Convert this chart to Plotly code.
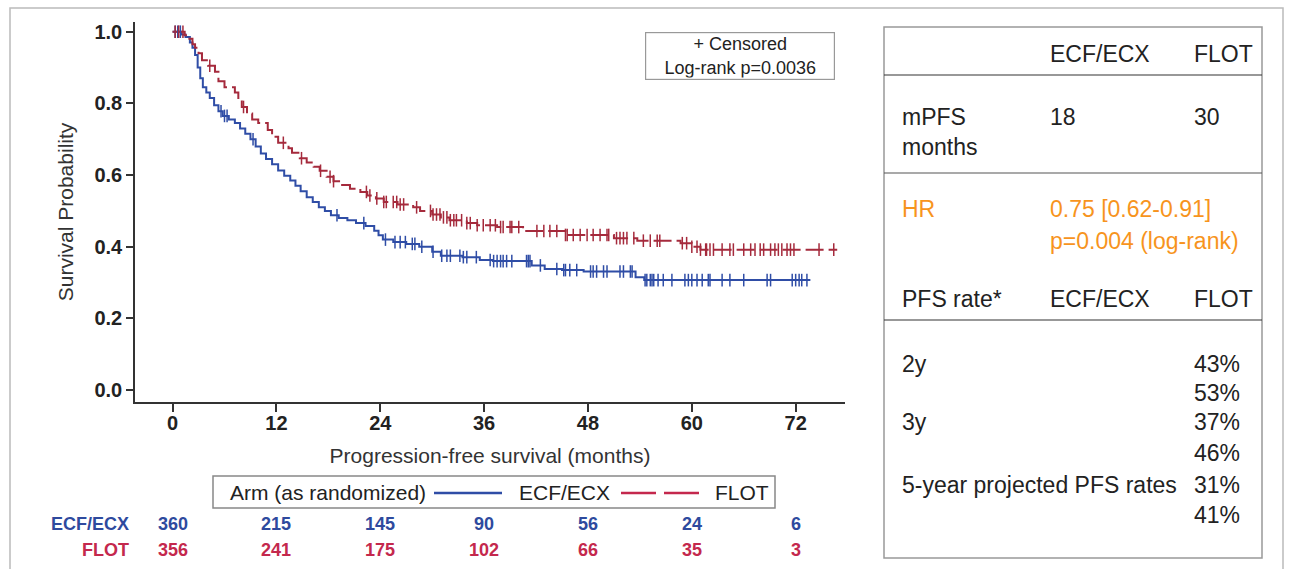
import numpy as np
import plotly.graph_objects as go

# ---------------- data ----------------
ecf_t = [0, 1.0, 1.5, 2.0, 2.3, 2.6, 2.9, 3.2, 3.5, 3.9, 4.3, 4.8, 5.3, 5.8, 6.5, 7.2, 7.8,
         8.4, 9.0, 9.6, 10.2, 10.8, 11.5, 12.2, 12.9, 13.6, 14.2, 14.8, 15.5, 16.2, 16.9,
         17.6, 18.3, 19.2, 20.2, 21.2, 22.3, 23.3, 23.8, 24.3, 25.5, 27.0, 28.5, 30.0,
         31.0, 33.5, 35.5, 37.0, 41.5, 43.0, 45.0, 47.5, 53.5, 54.5, 73.7]
ecf_s = [1.0, 0.992, 0.985, 0.97, 0.955, 0.935, 0.90, 0.87, 0.845, 0.83, 0.815, 0.795,
         0.778, 0.765, 0.755, 0.745, 0.73, 0.715, 0.70, 0.68, 0.66, 0.645, 0.63, 0.613,
         0.598, 0.585, 0.57, 0.555, 0.538, 0.525, 0.51, 0.50, 0.488, 0.48, 0.474, 0.466,
         0.458, 0.445, 0.432, 0.42, 0.413, 0.408, 0.40, 0.386, 0.375, 0.371, 0.363, 0.36,
         0.348, 0.338, 0.335, 0.331, 0.315, 0.307, 0.307]

flot_t = [0, 1.4, 1.8, 2.3, 2.6, 3.0, 3.4, 4.1, 4.9, 5.3, 6.0, 7.2, 7.6, 8.0, 8.6, 9.2,
          9.9, 11.0, 11.5, 12.2, 13.4, 13.8, 14.7, 15.5, 16.3, 17.0, 17.8, 18.6, 19.4,
          20.5, 21.7, 22.5, 23.5, 24.4, 26.0, 27.8, 28.6, 30.0, 31.0, 32.0, 34.0, 35.2,
          37.5, 40.5, 45.4, 51.0, 53.7, 58.7, 60.0, 61.0, 76.8]
flot_s = [1.0, 0.99, 0.98, 0.965, 0.955, 0.94, 0.92, 0.905, 0.888, 0.862, 0.845, 0.83,
          0.81, 0.79, 0.772, 0.755, 0.745, 0.726, 0.707, 0.69, 0.675, 0.662, 0.647,
          0.635, 0.623, 0.612, 0.595, 0.583, 0.572, 0.562, 0.553, 0.543, 0.535, 0.525,
          0.518, 0.51, 0.50, 0.49, 0.482, 0.474, 0.466, 0.46, 0.455, 0.444, 0.433, 0.424,
          0.417, 0.41, 0.40, 0.392, 0.392]

ecf_cens = [0.3, 0.6, 0.9, 5.6, 6.0, 6.3, 9.3, 19.0, 22.1, 24.6, 25.7, 26.3, 26.9, 27.7,
            28.0, 28.8, 30.1, 31.1, 31.7, 32.1, 33.2, 33.6, 34.0, 35.1, 36.7, 37.1, 37.5,
            37.9, 38.2, 38.6, 39.2, 40.9, 41.1, 41.3, 42.5, 44.4, 45.2, 45.4, 45.9, 46.7,
            48.3, 48.6, 49.0, 49.8, 50.2, 51.7, 52.1, 52.9, 53.1, 54.6, 54.8, 55.2, 55.4,
            55.6, 56.1, 56.7, 57.7, 59.2, 59.6, 60.0, 60.6, 61.2, 61.9, 62.1, 63.5, 64.4,
            66.0, 68.7, 69.1, 71.6, 72.0, 72.4, 72.7, 73.3]
flot_cens = [0.3, 0.7, 1.2, 4.3, 8.2, 12.8, 14.9, 17.1, 18.2, 18.6, 22.4, 22.8, 23.6, 24.4,
             24.7, 25.5, 25.9, 26.3, 26.7, 28.2, 29.8, 30.1, 30.5, 30.9, 31.3, 31.7, 32.1,
             32.5, 32.8, 33.4, 34.0, 34.4, 35.2, 35.9, 36.7, 37.3, 37.9, 38.2, 39.0, 39.2,
             40.0, 42.1, 42.9, 43.6, 44.4, 45.4, 45.6, 46.3, 47.1, 47.9, 48.6, 49.4, 50.2,
             50.4, 51.3, 51.7, 52.1, 52.5, 53.3, 54.4, 55.2, 56.0, 56.3, 58.9, 59.4, 60.0,
             60.6, 61.0, 61.6, 61.7, 62.1, 62.5, 63.5, 64.4, 64.8, 66.0, 66.8, 67.3, 67.9,
             68.3, 69.1, 69.6, 70.0, 70.4, 71.0, 71.4, 71.8, 74.7, 76.4]

risk_months = [0, 12, 24, 36, 48, 60, 72]
ecf_risk = [360, 215, 145, 90, 56, 24, 6]
flot_risk = [356, 241, 175, 102, 66, 35, 3]

y_ticks = [0, 0.2, 0.4, 0.6, 0.8, 1.0]

BLUE = "#2F4DA6"
RED = "#A52A3C"
BLUE_TXT = "#2E4A9E"
RED_TXT = "#C4284D"
ORANGE = "#F7941D"
TXT = "#222222"


def step_value(ts, ss, t):
    idx = np.searchsorted(np.array(ts), np.array(t), side="right") - 1
    return list(np.array(ss)[idx])


fig = go.Figure()
fig.add_trace(go.Scatter(x=ecf_t, y=ecf_s, mode="lines", line_shape="hv",
                         line=dict(color=BLUE, width=2), name="ECF/ECX"))
fig.add_trace(go.Scatter(x=flot_t, y=flot_s, mode="lines", line_shape="hv",
                         line=dict(color=RED, width=2, dash="18px,5px"), name="FLOT"))
fig.add_trace(go.Scatter(x=ecf_cens, y=step_value(ecf_t, ecf_s, ecf_cens), mode="markers",
                         marker=dict(symbol="line-ns", size=9, line=dict(color=BLUE, width=1.5)),
                         showlegend=False, hoverinfo="skip"))
fig.add_trace(go.Scatter(x=flot_cens, y=step_value(flot_t, flot_s, flot_cens), mode="markers",
                         marker=dict(symbol="line-ns", size=9, line=dict(color=RED, width=1.5)),
                         showlegend=False, hoverinfo="skip"))

W, H = 1292, 569
PL, PR, PT, PB = 135, 845, 22, 402


def px(xp):
    return (xp - PL) / (PR - PL)


def py(yp):
    return (PB - yp) / (PB - PT)


FONT = "Liberation Sans, Arial, sans-serif"

fig.update_layout(
    width=W, height=H,
    margin=dict(l=PL, r=W - PR, t=PT, b=H - PB),
    paper_bgcolor="white", plot_bgcolor="white",
    font=dict(family=FONT, color=TXT),
    showlegend=False,
    xaxis=dict(range=[-4.34, 77.7], tickvals=risk_months, showgrid=False, zeroline=False,
               showline=True, linecolor="#333", linewidth=1.5, ticks="outside", ticklen=8,
               tickwidth=2, tickcolor="#333",
               tickfont=dict(size=20, family=FONT, weight="bold", color=TXT),
               title=dict(text="Progression-free survival (months)", font=dict(size=21, color="#333"),
                          standoff=16)),
    yaxis=dict(range=[-0.033, 1.027], tickvals=y_ticks, tickformat=".1f",
               showgrid=False, zeroline=False, showline=True, linecolor="#333", linewidth=1.5,
               ticks="outside", ticklen=7, tickwidth=2, tickcolor="#333",
               tickfont=dict(size=20, family=FONT, weight="bold", color=TXT),
               title=dict(text="Survival Probability", font=dict(size=21, color="#333"), standoff=15)),
)
try:
    fig.update_xaxes(ticklabelstandoff=-6)
except Exception:
    pass

ann = []
# censored box
ann.append(dict(text="+ Censored<br>Log-rank p=0.0036", x=px(740), y=py(55.5), xref="paper",
                yref="paper", xanchor="center", yanchor="middle", showarrow=False,
                font=dict(size=18, color=TXT), bordercolor="#999", borderwidth=1.2,
                borderpad=1, width=186, bgcolor="white"))
# legend (drawn manually)
ann.append(dict(text="Arm (as randomized)", x=px(228), y=py(492), xref="paper", yref="paper",
                xanchor="left", yanchor="middle", showarrow=False, font=dict(size=21, color=TXT)))
ann.append(dict(text="ECF/ECX", x=px(517), y=py(492), xref="paper", yref="paper",
                xanchor="left", yanchor="middle", showarrow=False, font=dict(size=21, color=TXT)))
ann.append(dict(text="FLOT", x=px(713), y=py(492), xref="paper", yref="paper",
                xanchor="left", yanchor="middle", showarrow=False, font=dict(size=21, color=TXT)))
# at-risk table
ann.append(dict(text="<b>ECF/ECX</b>", x=px(131), y=py(524), xref="paper", yref="paper",
                xanchor="right", yanchor="middle", showarrow=False, font=dict(size=18, color=BLUE_TXT)))
ann.append(dict(text="<b>FLOT</b>", x=px(131), y=py(550), xref="paper", yref="paper",
                xanchor="right", yanchor="middle", showarrow=False, font=dict(size=18, color=RED_TXT)))
for m, a, b in zip(risk_months, ecf_risk, flot_risk):
    ann.append(dict(text=f"<b>{a}</b>", x=m, y=py(524), xref="x", yref="paper",
                    xanchor="center", yanchor="middle",
                    showarrow=False, font=dict(size=18, color=BLUE_TXT)))
    ann.append(dict(text=f"<b>{b}</b>", x=m, y=py(550), xref="x", yref="paper",
                    xanchor="center", yanchor="middle",
                    showarrow=False, font=dict(size=18, color=RED_TXT)))

# right-hand table
C1, C2, C3 = 900, 1048, 1192
cells = [
    ("ECF/ECX", C2, 54, TXT), ("FLOT", C3, 54, TXT),
    ("mPFS", C1, 117, TXT), ("months", C1, 147, TXT), ("18", C2, 117, TXT), ("30", C3, 117, TXT),
    ("HR", C1, 209, ORANGE), ("0.75 [0.62-0.91]", C2, 209, ORANGE),
    ("p=0.004 (log-rank)", C2, 241, ORANGE),
    ("PFS rate*", C1, 299, TXT), ("ECF/ECX", C2, 299, TXT), ("FLOT", C3, 299, TXT),
    ("2y", C1, 364, TXT), ("43%", C3, 364, TXT), ("53%", C3, 393, TXT),
    ("3y", C1, 422, TXT), ("37%", C3, 422, TXT), ("46%", C3, 453, TXT),
    ("5-year projected PFS rates", C1, 485, TXT), ("31%", C3, 485, TXT), ("41%", C3, 515, TXT),
]
for t, xx, yy, c in cells:
    ann.append(dict(text=t, x=px(xx), y=py(yy), xref="paper", yref="paper", xanchor="left",
                    yanchor="middle", showarrow=False, font=dict(size=23, color=c)))
fig.update_layout(annotations=ann)

shapes = []
# outer border
shapes.append(dict(type="rect", xref="paper", yref="paper", x0=px(10), x1=px(1283),
                   y0=py(585), y1=py(8), line=dict(color="#BBBBBB", width=1.5)))
# legend box and samples
shapes.append(dict(type="rect", xref="paper", yref="paper", x0=px(213), x1=px(775),
                   y0=py(508), y1=py(476), line=dict(color="#888888", width=1.5)))
shapes.append(dict(type="line", xref="paper", yref="paper", x0=px(434), x1=px(502),
                   y0=py(493), y1=py(493), line=dict(color=BLUE, width=2.5)))
shapes.append(dict(type="line", xref="paper", yref="paper", x0=px(621), x1=px(700),
                   y0=py(493), y1=py(493), line=dict(color=RED_TXT, width=2.5, dash="35px,8px")))
# table box
shapes.append(dict(type="rect", xref="paper", yref="paper", x0=px(884), x1=px(1262),
                   y0=py(558), y1=py(27), line=dict(color="#999999", width=1.5)))
for yy, col in [(75, "#333333"), (173, "#555555"), (320, "#333333")]:
    shapes.append(dict(type="line", xref="paper", yref="paper", x0=px(884), x1=px(1262),
                       y0=py(yy), y1=py(yy), line=dict(color=col, width=1.2)))
fig.update_layout(shapes=shapes)

fig.write_html("out.html")
